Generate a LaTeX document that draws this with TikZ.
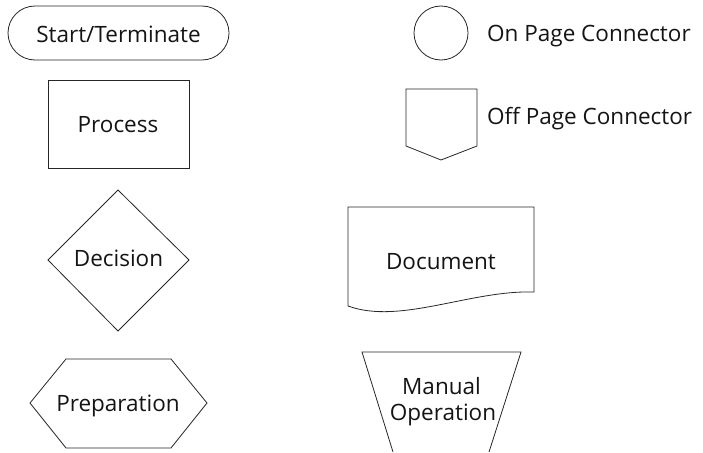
\documentclass[tikz,border=0pt]{standalone}
\usepackage{fontspec}
\setmainfont{Open Sans}
\begin{document}
\begin{tikzpicture}[x=1pt,y=-1pt,
  shapeline/.style={draw=black!85, line width=0.8pt, line join=miter},
  lbl/.style={font=\fontsize{22.5}{26}\selectfont, text=black!92, inner sep=0pt, anchor=base},
  sidelbl/.style={lbl, anchor=base west}]
\useasboundingbox (0,0) rectangle (703,452);

% Start/Terminate: rounded capsule
\draw[shapeline, rounded corners=27] (8,6) rectangle (229,60);
\node[lbl] (term) at (118.5,42) {Start/Terminate};

% Process
\draw[shapeline] (48,80) rectangle (189,168);
\node[lbl] (proc) at (118,132) {Process};

% Decision
\draw[shapeline] (118,190) -- (189,260) -- (118,331) -- (48,260) -- cycle;
\node[lbl] (dec) at (118.5,266) {Decision};

% Preparation
\draw[shapeline] (30,403) -- (66,359) -- (171,359) -- (207,403) -- (171,448) -- (66,448) -- cycle;
\node[lbl] (prep) at (118,411.5) {Preparation};

% On page connector
\draw[shapeline] (441,33) circle (27);
\node[sidelbl] (onpage) at (487,41.5) {On Page Connector};

% Off page connector
\draw[shapeline] (406,89) -- (477,89) -- (477,146) -- (441,160) -- (406,146) -- cycle;
\node[sidelbl] (offpage) at (487,124.5) {Off Page Connector};

% Document with wavy lower edge
\draw[shapeline] (348,306) -- (348,207) -- (534,207) -- (534,292)
  .. controls (470,290) and (400,325) .. (348,306);
\node[lbl] (doc) at (441,269) {Document};

% Manual operation (runs off the lower edge)
\draw[shapeline] (393,452) -- (362,352) -- (521,352) -- (489,452);
\node[lbl] (manual) at (441.5,394) {Manual};
\node[lbl] (operation) at (443,420) {Operation};
\end{tikzpicture}
\end{document}
